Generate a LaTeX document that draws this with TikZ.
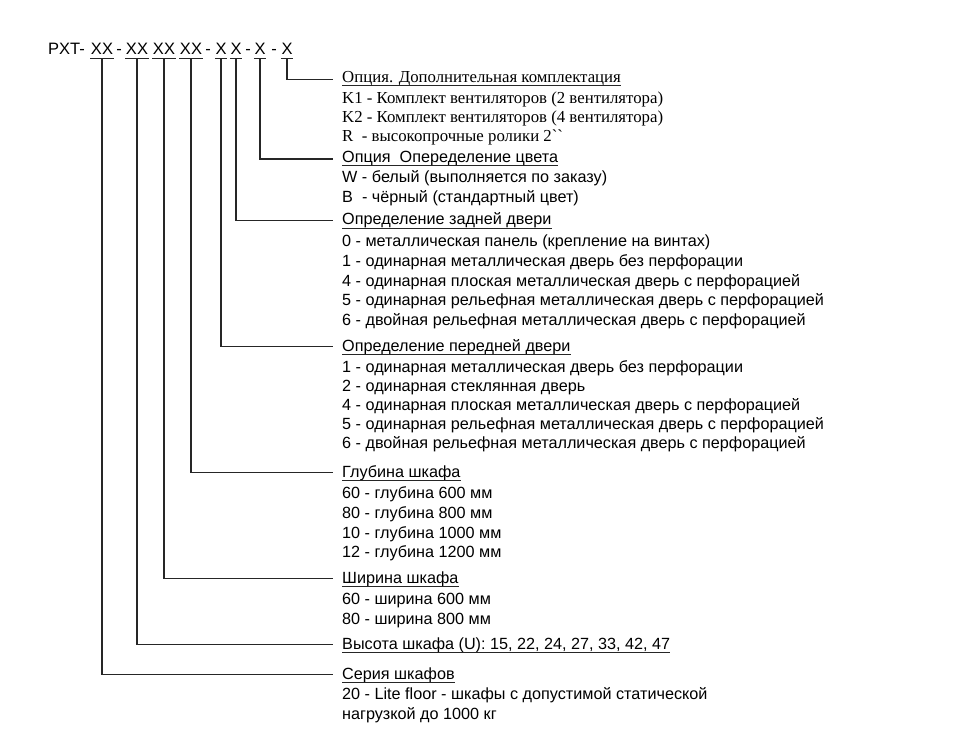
\documentclass[tikz,border=0pt]{standalone}
\usepackage{fontspec}
\setmainfont{Liberation Sans}
\newfontfamily\serifcyr{Liberation Serif}
\begin{document}
\begin{tikzpicture}[x=1pt,y=-1pt,
  txt/.style={anchor=base west,inner sep=0pt,font=\fontsize{16.2}{19}\selectfont},
  stxt/.style={anchor=base west,inner sep=0pt,font=\serifcyr\fontsize{16.8}{19}\selectfont},
  code/.style={anchor=base,inner xsep=0.5pt,inner ysep=0pt,font=\fontsize{16.5}{20}\selectfont},
  conn/.style={draw=black!85,line width=1.1pt},
  uline/.style={draw=black!85,line width=1pt}]
\useasboundingbox (0,0) rectangle (974,746);
% header
\node[anchor=base west,inner sep=0pt,font=\fontsize{16.5}{20}\selectfont] (pxt) at (48,55) {PXT-};
\node[code] (c1) at (102,55) {XX};
\node[code] (d1) at (119,55) {-};
\node[code] (c2) at (137,55) {XX};
\node[code] (c3) at (164,55) {XX};
\node[code] (c4) at (191,55) {XX};
\node[code] (d2) at (208,55) {-};
\node[code] (c5) at (221,55) {X};
\node[code] (c6) at (236,55) {X};
\node[code] (d3) at (248,55) {-};
\node[code] (c7) at (260,55) {X};
\node[code] (d4) at (274,55) {-};
\node[code] (c8) at (287,55) {X};
\foreach \c in {c1,c2,c3,c4,c5,c6,c7,c8}{
  \draw[uline] ([yshift=-4pt]\c.base west) -- ([yshift=-4pt]\c.base east);
  \coordinate (u\c) at ([yshift=-4pt]\c.base);
}
% block 1
\node[stxt] (t1) at (342,83) {Опция. Дополнительная комплектация};
\node[stxt] (t1a) at (342,104) {K1 - Комплект вентиляторов (2 вентилятора)};
\node[stxt] (t1b) at (342,123) {K2 - Комплект вентиляторов (4 вентилятора)};
\node[stxt] (t1c) at (342,142) {R~~- высокопрочные ролики 2``};
% block 2
\node[txt] (t2) at (342,163) {Опция~~Опеределение цвета};
\node[txt] (t2a) at (342,183) {W - белый (выполняется по заказу)};
\node[txt] (t2b) at (342,203) {B~~- чёрный (стандартный цвет)};
% block 3
\node[txt] (t3) at (342,225) {Определение задней двери};
\node[txt] (t3a) at (342,246) {0 - металлическая панель (крепление на винтах)};
\node[txt] (t3b) at (342,266) {1 - одинарная металлическая дверь без перфорации};
\node[txt] (t3c) at (342,286) {4 - одинарная плоская металлическая дверь с перфорацией};
\node[txt] (t3d) at (342,305) {5 - одинарная рельефная металлическая дверь с перфорацией};
\node[txt] (t3e) at (342,325) {6 - двойная рельефная металлическая дверь с перфорацией};
% block 4
\node[txt] (t4) at (342,351) {Определение передней двери};
\node[txt] (t4a) at (342,372) {1 - одинарная металлическая дверь без перфорации};
\node[txt] (t4b) at (342,391) {2 - одинарная стеклянная дверь};
\node[txt] (t4c) at (342,410) {4 - одинарная плоская металлическая дверь с перфорацией};
\node[txt] (t4d) at (342,429) {5 - одинарная рельефная металлическая дверь с перфорацией};
\node[txt] (t4e) at (342,448) {6 - двойная рельефная металлическая дверь с перфорацией};
% block 5
\node[txt] (t5) at (342,477) {Глубина шкафа};
\node[txt] (t5a) at (342,498) {60 - глубина 600 мм};
\node[txt] (t5b) at (342,518) {80 - глубина 800 мм};
\node[txt] (t5c) at (342,538) {10 - глубина 1000 мм};
\node[txt] (t5d) at (342,557) {12 - глубина 1200 мм};
% block 6
\node[txt] (t6) at (342,583) {Ширина шкафа};
\node[txt] (t6a) at (342,604) {60 - ширина 600 мм};
\node[txt] (t6b) at (342,624) {80 - ширина 800 мм};
% block 7
\node[txt] (t7) at (342,649) {Высота шкафа (U): 15, 22, 24, 27, 33, 42, 47};
% block 8
\node[txt] (t8) at (342,679) {Серия шкафов};
\node[txt] (t8a) at (342,699) {20 - Lite floor - шкафы с допустимой статической};
\node[txt] (t8b) at (342,719) {нагрузкой до 1000 кг};
% title underlines
\foreach \t in {t1,t2,t3,t4,t5,t6,t7,t8}{
  \draw[uline] ([yshift=-3pt]\t.base west) -- ([yshift=-3pt]\t.base east);
}
% connectors
\draw[conn] (uc8) |- ([xshift=-9pt]t1.west);
\draw[conn] (uc7) |- ([xshift=-9pt]t2.west);
\draw[conn] (uc6) |- ([xshift=-9pt]t3.west);
\draw[conn] (uc5) |- ([xshift=-9pt]t4.west);
\draw[conn] (uc4) |- ([xshift=-9pt]t5.west);
\draw[conn] (uc3) |- ([xshift=-9pt]t6.west);
\draw[conn] (uc2) |- ([xshift=-9pt]t7.west);
\draw[conn] (uc1) |- ([xshift=-9pt]t8.west);
\end{tikzpicture}
\end{document}
